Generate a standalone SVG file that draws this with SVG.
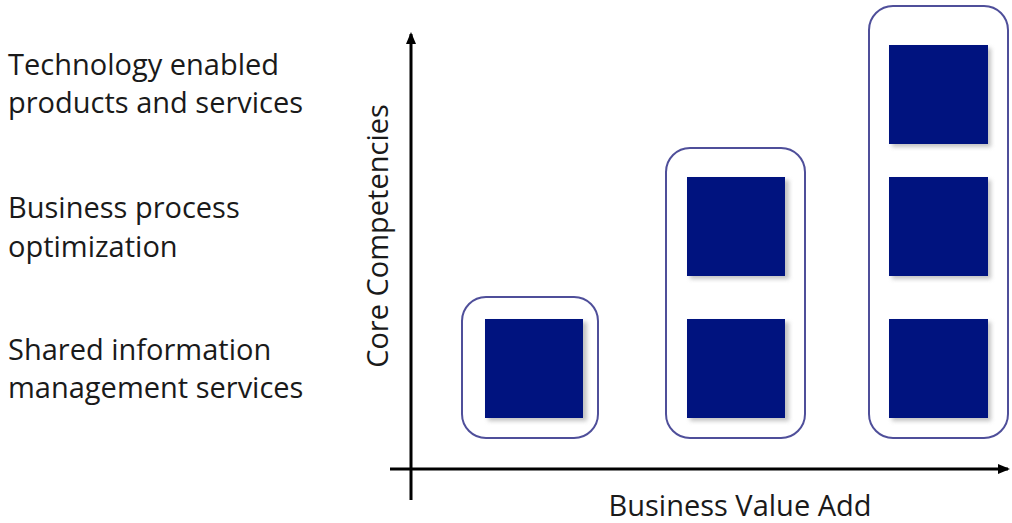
<svg xmlns="http://www.w3.org/2000/svg" width="1012" height="523" viewBox="0 0 1012 523">
<style>
.lbl{font-family:"Open Sans","Liberation Sans",sans-serif;font-size:29px;fill:#1a1a1a}
.grp{fill:none;stroke:#4f4f9a;stroke-width:2}
.sq{fill:#00137f}
.sh{fill:#9a9a9a;opacity:0.6}
.axis{stroke:#000;stroke-width:3;fill:none}
</style>
<defs>
<filter id="blur" x="-10%" y="-10%" width="130%" height="130%"><feGaussianBlur stdDeviation="2"/></filter>
<marker id="arr" markerWidth="12" markerHeight="10" refX="10" refY="5" orient="auto" markerUnits="userSpaceOnUse"><path d="M0,0 L12,5 L0,10 z" fill="#000"/></marker>
</defs>
<g id="labels">
<text class="lbl" x="8" y="75">Technology enabled</text>
<text class="lbl" x="8" y="113">products and services</text>
<text class="lbl" x="8" y="218">Business process</text>
<text class="lbl" x="8" y="257">optimization</text>
<text class="lbl" x="8" y="360">Shared information</text>
<text class="lbl" x="8" y="398">management services</text>
</g>
<g id="connectors">
<line class="axis" x1="411" y1="500" x2="411" y2="34" marker-end="url(#arr)"/>
<line class="axis" x1="390" y1="469" x2="1008" y2="469" marker-end="url(#arr)"/>
</g>
<text class="lbl" transform="translate(388,236) rotate(-90)" text-anchor="middle">Core Competencies</text>
<text class="lbl" x="740" y="516" text-anchor="middle">Business Value Add</text>
<g id="group1">
<rect class="grp" x="462" y="297" width="136" height="141" rx="24"/>
<rect class="sh" x="488" y="322" width="99" height="99" filter="url(#blur)"/>
<rect class="sq" x="485" y="319" width="98" height="99"/>
</g>
<g id="group2">
<rect class="grp" x="666" y="148" width="139" height="290" rx="24"/>
<rect class="sh" x="690" y="180" width="99" height="99" filter="url(#blur)"/>
<rect class="sq" x="687" y="177" width="98" height="99"/>
<rect class="sh" x="690" y="322" width="99" height="99" filter="url(#blur)"/>
<rect class="sq" x="687" y="319" width="98" height="99"/>
</g>
<g id="group3">
<rect class="grp" x="869" y="6" width="139" height="432" rx="24"/>
<rect class="sh" x="892" y="48" width="99" height="99" filter="url(#blur)"/>
<rect class="sq" x="889" y="45" width="99" height="99"/>
<rect class="sh" x="892" y="180" width="99" height="99" filter="url(#blur)"/>
<rect class="sq" x="889" y="177" width="99" height="99"/>
<rect class="sh" x="892" y="322" width="99" height="99" filter="url(#blur)"/>
<rect class="sq" x="889" y="319" width="99" height="99"/>
</g>
</svg>
